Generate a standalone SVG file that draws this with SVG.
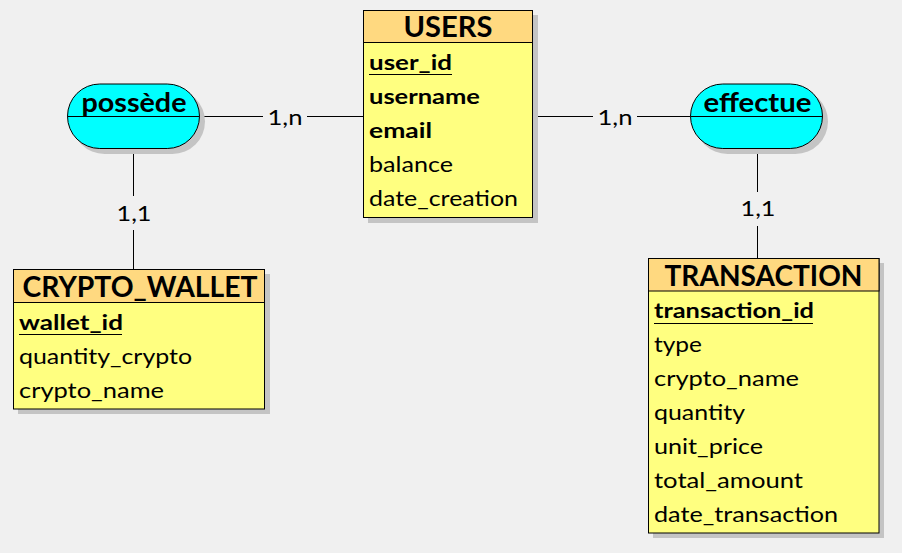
<svg xmlns="http://www.w3.org/2000/svg" width="902" height="553" viewBox="0 0 902 553">
<style>
text{font-family:Lato,"Open Sans","Liberation Sans",sans-serif;fill:#000}
.shadow{fill:#c4c4c4}
.body{fill:#ffff80;stroke:#000;stroke-width:1}
.head{fill:#ffd980;stroke:#000;stroke-width:1}
.rel{fill:#00ffff;stroke:#000;stroke-width:1}
.ln{stroke:#000;stroke-width:1;fill:none}
.title{font-size:29px;font-weight:bold;text-anchor:middle}
.rname{font-size:27px;font-weight:bold;text-anchor:middle}
.attr{font-size:21px}
.key{font-size:21px;font-weight:bold}
.card{font-size:21px;text-anchor:middle}
.lbg{fill:#f0f0f0}
</style>
<rect width="902" height="553" fill="#f0f0f0"/>
<g id="connectors">
<line class="ln" x1="200" y1="116.5" x2="363" y2="116.5"/>
<rect class="lbg" x="263" y="104" width="44" height="26"/>
<text class="card" x="285" y="125" textLength="35" lengthAdjust="spacingAndGlyphs">1,n</text>
<line class="ln" x1="533" y1="116.5" x2="690" y2="116.5"/>
<rect class="lbg" x="593" y="104" width="44" height="26"/>
<text class="card" x="615" y="125" textLength="35" lengthAdjust="spacingAndGlyphs">1,n</text>
<line class="ln" x1="133.5" y1="149" x2="133.5" y2="269"/>
<rect class="lbg" x="111" y="196" width="45" height="34"/>
<text class="card" x="134" y="221" textLength="35" lengthAdjust="spacingAndGlyphs">1,1</text>
<line class="ln" x1="757.5" y1="149" x2="757.5" y2="258"/>
<rect class="lbg" x="735" y="192" width="45" height="34"/>
<text class="card" x="758" y="216" textLength="35" lengthAdjust="spacingAndGlyphs">1,1</text>
</g>
<g id="users">
<rect class="shadow" x="368" y="15" width="170" height="208"/>
<rect class="body" x="363.5" y="10.5" width="169" height="207"/>
<rect class="head" x="363.5" y="10.5" width="169" height="32"/>
<text class="title" x="448" y="37" textLength="89" lengthAdjust="spacingAndGlyphs">USERS</text>
<text class="key" x="369" y="70" textLength="83" lengthAdjust="spacingAndGlyphs">user_id</text>
<line class="ln" x1="369" y1="74.5" x2="452" y2="74.5"/>
<text class="key" x="369" y="104" textLength="111" lengthAdjust="spacingAndGlyphs">username</text>
<text class="key" x="369" y="138" textLength="63" lengthAdjust="spacingAndGlyphs">email</text>
<text class="attr" x="369" y="172" textLength="84" lengthAdjust="spacingAndGlyphs">balance</text>
<text class="attr" x="369" y="206" textLength="149" lengthAdjust="spacingAndGlyphs">date_creation</text>
</g>
<g id="possede">
<rect class="shadow" x="72" y="89" width="133" height="65" rx="32.5"/>
<rect class="rel" x="67.5" y="84" width="132" height="64.5" rx="32.25"/>
<line class="ln" x1="67.5" y1="116.5" x2="199.5" y2="116.5"/>
<text class="rname" x="134" y="112" textLength="105" lengthAdjust="spacingAndGlyphs">possède</text>
</g>
<g id="effectue">
<rect class="shadow" x="695" y="89" width="133" height="65" rx="32.5"/>
<rect class="rel" x="690.5" y="84" width="132" height="64.5" rx="32.25"/>
<line class="ln" x1="690.5" y1="116.5" x2="822.5" y2="116.5"/>
<text class="rname" x="757.5" y="112" textLength="108" lengthAdjust="spacingAndGlyphs">effectue</text>
</g>
<g id="crypto_wallet">
<rect class="shadow" x="18" y="274" width="252" height="140"/>
<rect class="body" x="13.5" y="269.5" width="251" height="139.5"/>
<rect class="head" x="13.5" y="269.5" width="251" height="33"/>
<text class="title" x="140" y="297" textLength="235" lengthAdjust="spacingAndGlyphs">CRYPTO_WALLET</text>
<text class="key" x="19" y="330" textLength="104" lengthAdjust="spacingAndGlyphs">wallet_id</text>
<line class="ln" x1="19" y1="334.5" x2="122" y2="334.5"/>
<text class="attr" x="19" y="364" textLength="173" lengthAdjust="spacingAndGlyphs">quantity_crypto</text>
<text class="attr" x="19" y="398" textLength="145" lengthAdjust="spacingAndGlyphs">crypto_name</text>
</g>
<g id="transaction">
<rect class="shadow" x="653" y="263" width="231" height="275"/>
<rect class="body" x="648.5" y="258.5" width="230.5" height="274.5"/>
<rect class="head" x="648.5" y="258.5" width="230.5" height="32.5"/>
<text class="title" x="763.5" y="286" textLength="198" lengthAdjust="spacingAndGlyphs">TRANSACTION</text>
<text class="key" x="654" y="318" textLength="160" lengthAdjust="spacingAndGlyphs">transaction_id</text>
<line class="ln" x1="654" y1="323.5" x2="813" y2="323.5"/>
<text class="attr" x="654" y="352" textLength="48" lengthAdjust="spacingAndGlyphs">type</text>
<text class="attr" x="654" y="386" textLength="145" lengthAdjust="spacingAndGlyphs">crypto_name</text>
<text class="attr" x="654" y="420" textLength="91" lengthAdjust="spacingAndGlyphs">quantity</text>
<text class="attr" x="654" y="454" textLength="109" lengthAdjust="spacingAndGlyphs">unit_price</text>
<text class="attr" x="654" y="488" textLength="149" lengthAdjust="spacingAndGlyphs">total_amount</text>
<text class="attr" x="654" y="522" textLength="184" lengthAdjust="spacingAndGlyphs">date_transaction</text>
</g>
</svg>
